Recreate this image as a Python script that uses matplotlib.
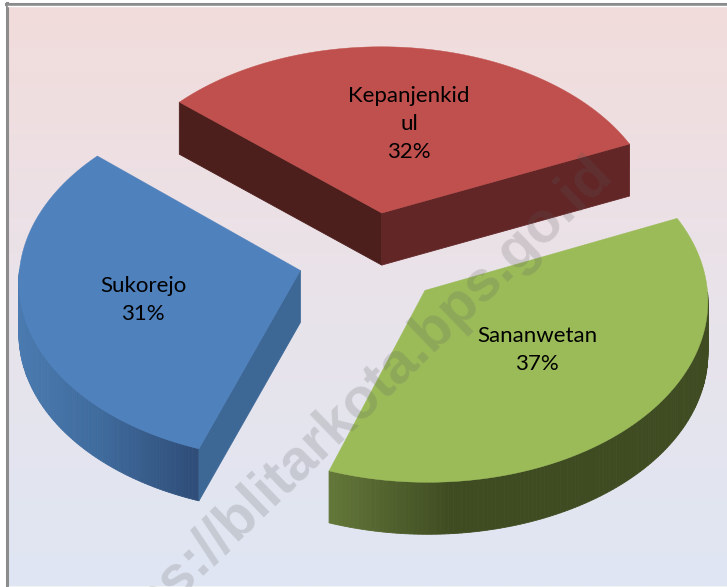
import numpy as np
import matplotlib
matplotlib.use("Agg")
import matplotlib.pyplot as plt
from matplotlib.colors import LinearSegmentedColormap, to_rgb

categories = ["Kepanjenkid\nul", "Sananwetan", "Sukorejo"]
shares = [32, 37, 31]

TOP = ["#c0504d", "#9bbb59", "#4f81bd"]
# (x pixel, colour) stops for the curved outer wall
WALL = [[(0, "#632526"), (727, "#632526")],
        [(324, "#65793a"), (450, "#3f4c22"), (727, "#3f4c22")],
        [(18, "#4a7aaf"), (100, "#3f6b9d"), (201, "#2e4c76")]]
CUT = [("#4c1e1c", "#622627"), ("#3f4c22", "#3f4c22"), ("#3d6896", "#3d6896")]
LABEL_POS = [(409, 124), (537, 350), (143, 300)]

W, H = 727, 587
CX, CY = 371, 258.5
RX, RY = 280, 179
PERSP = 0.05
EXPLODE = 0.26
DEPTH = 52
START = 139.0


def project(u, v):
    s = 1 / (1 + PERSP * v)
    return CX + RX * u * s, CY - RY * v * s


def wall_color(stops, x):
    xs = [p[0] for p in stops]
    cs = np.array([to_rgb(p[1]) for p in stops])
    return [np.interp(x, xs, cs[:, i]) for i in range(3)]


def quad(ax, p, q, color, z):
    ax.fill([p[0], q[0], q[0], p[0]], [p[1], q[1], q[1] + DEPTH, p[1] + DEPTH],
            color=color, lw=0.6, zorder=z)


fig = plt.figure(figsize=(W / 100, H / 100), dpi=100)
ax = fig.add_axes([0, 0, 1, 1])
ax.set_xlim(0, W)
ax.set_ylim(H, 0)
ax.axis("off")

# chart area background, rose at the top to pale blue at the bottom
bg = LinearSegmentedColormap.from_list("bg", ["#f2dcdb", "#e9e3ea", "#dfe6f3"])
ax.imshow(np.linspace(0, 1, 256)[:, None], cmap=bg, aspect="auto",
          extent=[8, W, 586, 5], zorder=0)
ax.plot([7, 7], [3, 587], color="#8c8c8c", lw=2.2, zorder=1)
ax.plot([6, W], [4, 4], color="#8c8c8c", lw=2.2, zorder=1)
ax.plot([8, W], [5.7, 5.7], color="#ffffff", lw=1, zorder=1)
ax.plot([8, W], [586.5, 586.5], color="#c4c8d2", lw=1, zorder=1)

total = sum(shares)
angle = START
for i, val in enumerate(shares):
    a0 = angle
    a1 = angle - 360 * val / total
    angle = a1
    mid = np.radians((a0 + a1) / 2)
    ou, ov = EXPLODE * np.cos(mid), EXPLODE * np.sin(mid)
    th = np.radians(np.linspace(a0, a1, 160))
    arc = [project(ou + np.cos(t), ov + np.sin(t)) for t in th]
    apex = project(ou, ov)
    z = 2 + i * 3 if i != 2 else 3.5

    # curved wall, only the part facing the viewer
    for t, p, q in zip(th[:-1], arc[:-1], arc[1:]):
        if np.sin(t) < 0:
            quad(ax, p, q, wall_color(WALL[i], (p[0] + q[0]) / 2), z)
    # cut faces, same rule through the outward normal
    if np.sin(np.radians(a0 + 90)) < 0:
        quad(ax, apex, arc[0], CUT[i][0], z + 0.1)
    if np.sin(np.radians(a1 - 90)) < 0:
        quad(ax, apex, arc[-1], CUT[i][1], z + 0.1)

    xs = [apex[0]] + [p[0] for p in arc]
    ys = [apex[1]] + [p[1] for p in arc]
    ax.fill(xs, ys, color=TOP[i], lw=0.3, zorder=z + 0.2)

    ax.text(LABEL_POS[i][0], LABEL_POS[i][1], f"{categories[i]}\n{val}%",
            ha="center", va="center", fontsize=16, family="Lato",
            linespacing=1.53, color="#000000", zorder=10)

ax.text(603, 165, "https://blitarkota.bps.go.id", rotation=44,
        rotation_mode="anchor", ha="right", va="center", fontsize=41,
        family="Liberation Sans", weight="bold", color="#5c5c5c", alpha=0.2,
        zorder=20, clip_on=True)

fig.savefig("out.png", dpi=100)
